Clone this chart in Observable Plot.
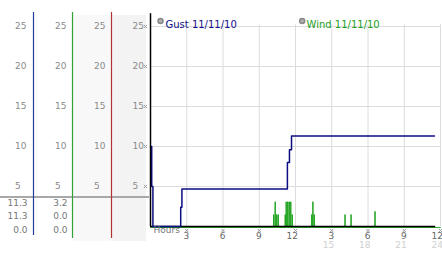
<!DOCTYPE html>
<html><head><meta charset="utf-8">
<script src="https://cdn.jsdelivr.net/npm/d3@7"></script>
<script src="https://cdn.jsdelivr.net/npm/@observablehq/plot@0.6"></script>
<style>body{margin:0;background:#fff} svg{display:block}</style>
</head><body><div id="chart"></div>
<script>
// ---- data ----
const yTicks = [5, 10, 15, 20, 25];
const xTicks = [3, 6, 9, 12, 15, 18, 21, 24];
const xTickLabels = ["3", "6", "9", "12", "3", "6", "9", "12"];
const xTickLabels2 = ["", "", "", "", "15", "18", "21", "24"];
const xAxisTitle = "Hours";
const seriesNames = ["Gust 11/11/10", "Wind 11/11/10"];
const gustHours  = [0, 0.1, 0.2, 2.5, 2.6, 11.33, 11.5, 11.67, 23.5];
const gustValues = [10, 5, 0, 2.4, 4.7, 8.0, 9.6, 11.3, 11.3];
const windHours  = [0, 10.18, 10.22, 10.30, 10.34, 10.43, 10.47, 10.55, 10.59,
                    11.13, 11.17, 11.21, 11.25, 11.34, 11.38, 11.46, 11.50, 11.59, 11.63, 11.71, 11.75,
                    13.32, 13.36, 13.42, 13.46, 13.53, 13.57, 16.08, 16.12, 16.58, 16.62, 18.56, 18.60, 24];
const windValues = [0, 1.6, 0, 3.2, 0, 1.6, 0, 1.6, 0,
                    1.6, 0, 3.2, 0, 3.2, 0, 3.2, 0, 3.2, 0, 1.6, 0,
                    1.6, 0, 3.2, 0, 1.6, 0, 1.6, 0, 1.6, 0, 2.0, 0, 0];
const tableGust = ["11.3", "11.3", "0.0"];
const tableWind = ["3.2", "0.0", "0.0"];

const gust = gustHours.map((h, i) => ({h, v: gustValues[i]}));
const wind = windHours.map((h, i) => ({h, v: windValues[i]}));

// ---- left panel (background strips, column rules, separator) ----
function panel(index, scales, values, dims) {
  const g = d3.create("svg:g");
  const bottom = dims.height - dims.marginBottom;
  g.append("rect").attr("x", 73).attr("y", 15).attr("width", 38).attr("height", 226).attr("fill", "#f8f8f8");
  g.append("rect").attr("x", 112).attr("y", 15).attr("width", 34).attr("height", 226).attr("fill", "#f3f3f3");
  g.append("line").attr("x1", 0).attr("x2", 149).attr("y1", bottom - 29).attr("y2", bottom - 29)
    .attr("stroke", "#a8a8a8").attr("stroke-width", 2);
  const cols = [[33.5, 235, "#1f3d9c"], [72.5, 238, "#35a035"], [111.5, 238, "#b03232"]];
  for (const [x, y2, c] of cols) {
    g.append("line").attr("x1", x).attr("x2", x).attr("y1", 12).attr("y2", y2)
      .attr("stroke", c).attr("stroke-width", 1.2);
  }
  return g.node();
}

const colDx = [-135.5, -95.5, -56.5, -18];
const rowDy = [-21, -7.5, 6];

const marks = [
  panel,
  Plot.ruleY(yTicks, {stroke: "#dcdcdc", strokeOpacity: 1}),
  Plot.ruleX(xTicks, {y1: 0, y2: 25.2, stroke: "#dcdcdc", strokeOpacity: 1}),
  Plot.line(wind, {x: "h", y: "v", curve: "step-after", stroke: "#19a019", strokeWidth: 0.9, dy: 1}),
  Plot.ruleY([0], {x1: 0, x2: 23.6, stroke: "#000", strokeWidth: 1.5}),
  Plot.line(gust, {x: "h", y: "v", curve: "step-after", stroke: "#0c0c82", strokeWidth: 1.5}),
  Plot.ruleX([0], {y1: 0, y2: 26.6, stroke: "#000", strokeWidth: 1.5}),
  Plot.dot(yTicks, {y: d => d, frameAnchor: "left", dx: -5, symbol: "times", r: 1.6, stroke: "#999", strokeWidth: 1}),
  Plot.dot(xTicks, {x: d => d, frameAnchor: "bottom", dy: 4, symbol: "times", r: 1.6, stroke: "#999", strokeWidth: 1}),
  Plot.text(xTicks, {x: d => d, text: (d, i) => xTickLabels[i], frameAnchor: "bottom", dy: 12, dx: 2.5, textAnchor: "end", fill: "#666"}),
  Plot.text(xTicks, {x: d => d, text: (d, i) => xTickLabels2[i], frameAnchor: "bottom", dy: 21.5, dx: 2.5, textAnchor: "end", fill: "#cfcfcf"}),
  Plot.text([xAxisTitle], {frameAnchor: "bottom-left", dx: 3, dy: 6.5, textAnchor: "start", fill: "#777"}),
  Plot.dot([0], {frameAnchor: "top-left", dx: 10, dy: -5.5, r: 2.5, fill: "#b0b0b0", stroke: "#888"}),
  Plot.text([seriesNames[0]], {frameAnchor: "top-left", dx: 15, dy: -5.5, textAnchor: "start", fill: "#10108c", fontSize: 10}),
  Plot.dot([0], {frameAnchor: "top-left", dx: 151.7, dy: -5.5, r: 2.5, fill: "#b0b0b0", stroke: "#888"}),
  Plot.text([seriesNames[1]], {frameAnchor: "top-left", dx: 156, dy: -5.5, textAnchor: "start", fill: "#22a022", fontSize: 10}),
];
for (const dx of colDx) {
  marks.push(Plot.text(yTicks, {y: d => d, text: d => String(d), frameAnchor: "left", dx, fill: "#8a8a8a"}));
}
tableGust.forEach((t, i) => {
  marks.push(Plot.text([t], {frameAnchor: "bottom-left", dx: 27 - 150, dy: rowDy[i], textAnchor: "end", fill: "#777"}));
  marks.push(Plot.text([tableWind[i]], {frameAnchor: "bottom-left", dx: 67 - 150, dy: rowDy[i], textAnchor: "end", fill: "#777"}));
});

const chart = Plot.plot({
  width: 442, height: 253,
  marginLeft: 150, marginRight: 2, marginTop: 26, marginBottom: 27,
  x: {domain: [0, 24], axis: null},
  y: {domain: [0, 25], axis: null},
  style: {fontFamily: "DejaVu Sans", fontSize: "9px", background: "#fff", overflow: "visible"},
  marks
});
document.getElementById("chart").appendChild(chart);
</script>
</body></html>
